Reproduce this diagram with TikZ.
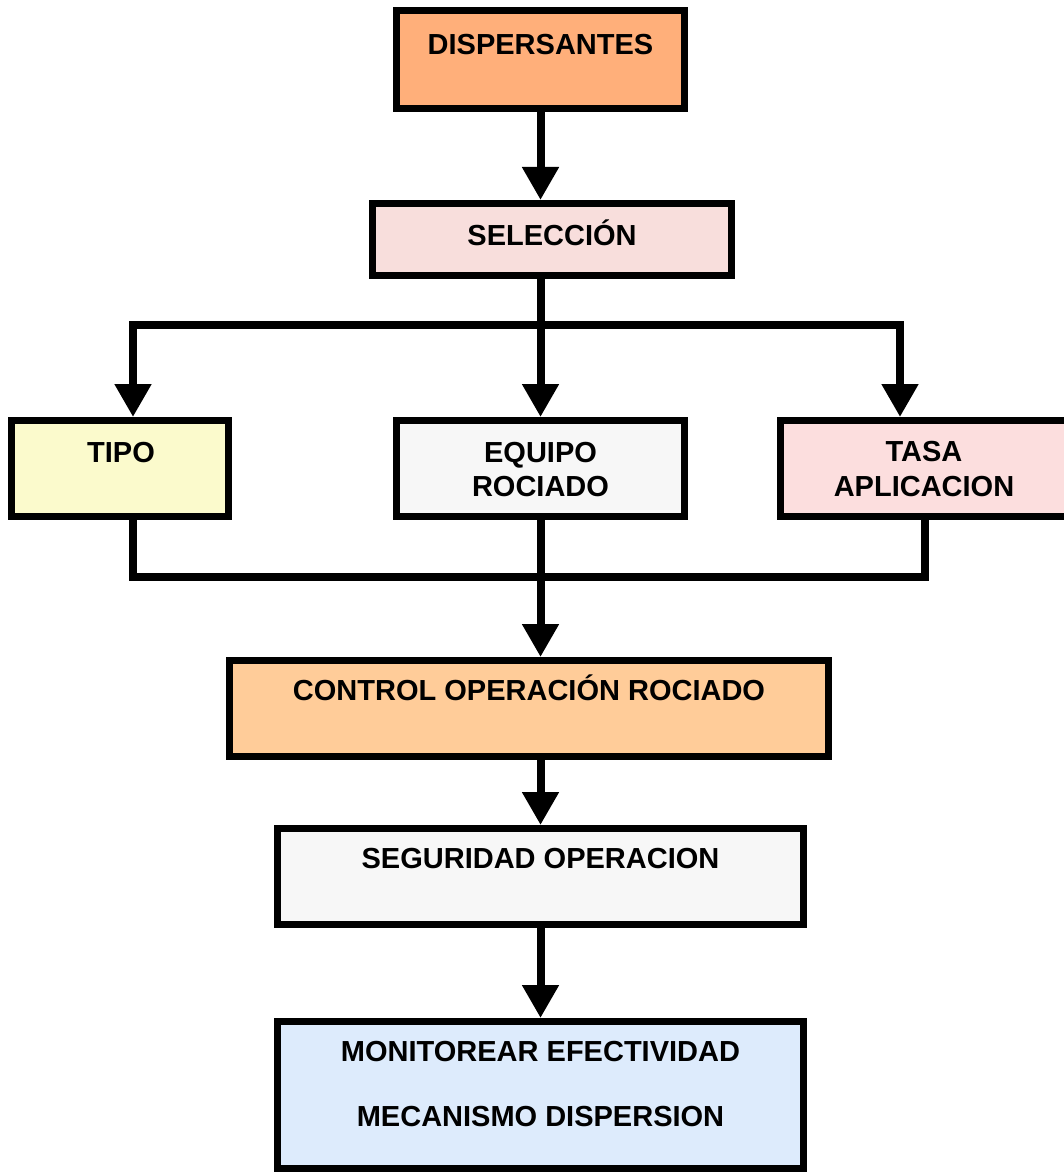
\documentclass[tikz,border=0pt]{standalone}
\usepackage{fontspec}
\setmainfont{Liberation Sans}
\usetikzlibrary{arrows.meta}
\definecolor{cDisp}{RGB}{255,175,122}
\definecolor{cSel}{RGB}{248,222,220}
\definecolor{cTipo}{RGB}{251,250,204}
\definecolor{cGrey}{RGB}{247,247,247}
\definecolor{cTasa}{RGB}{252,222,222}
\definecolor{cCtrl}{RGB}{255,204,153}
\definecolor{cMon}{RGB}{221,235,252}
\tikzset{
  box/.style={draw=black, line width=7pt, rectangle, inner sep=0pt, line join=miter},
  lbl/.style={font=\fontsize{29}{34}\selectfont\bfseries, align=center, inner sep=0pt, anchor=base},
  conn/.style={draw=black, line width=8pt, line join=miter},
  arr/.style={conn, -{Triangle[width=35pt,length=33pt]}}
}
\begin{document}
\begin{tikzpicture}[x=1pt,y=-1pt]
\useasboundingbox (0,0) rectangle (1063,1174);
% boxes
\node[box, fill=cDisp, minimum width=288pt, minimum height=98pt] (disp) at (540.5,59.5) {};
\node[box, fill=cSel, minimum width=359pt, minimum height=72pt] (sel) at (552,239.5) {};
\node[box, fill=cTipo, minimum width=217pt, minimum height=96pt] (tipo) at (120,468.5) {};
\node[box, fill=cGrey, minimum width=288pt, minimum height=96pt] (equipo) at (540.5,468.5) {};
\node[box, fill=cTasa, minimum width=287pt, minimum height=96pt] (tasa) at (924,468.5) {};
\node[box, fill=cCtrl, minimum width=599pt, minimum height=96pt] (ctrl) at (529,708.5) {};
\node[box, fill=cGrey, minimum width=526pt, minimum height=96pt] (seg) at (540.5,876.5) {};
\node[box, fill=cMon, minimum width=526pt, minimum height=147pt] (mon) at (540.5,1095) {};
% labels
\node[lbl] (tDisp) at (540.5,54.5) {DISPERSANTES};
\node[lbl] (tSel) at (552,245.5) {SELECCIÓN};
\node[lbl] (tTipo) at (121,462.5) {TIPO};
\node[lbl] (tEq1) at (540.5,462.5) {EQUIPO};
\node[lbl] (tEq2) at (540.5,496.5) {ROCIADO};
\node[lbl] (tTa1) at (924,461.5) {TASA};
\node[lbl] (tTa2) at (924,496.5) {APLICACION};
\node[lbl] (tCtrl) at (529,700.5) {CONTROL OPERACIÓN ROCIADO};
\node[lbl] (tSeg) at (540.5,868.5) {SEGURIDAD OPERACION};
\node[lbl] (tMon1) at (540.5,1061.5) {MONITOREAR EFECTIVIDAD};
\node[lbl] (tMon2) at (540.5,1126.5) {MECANISMO DISPERSION};
% junction coordinates
\coordinate (j1) at (540.5,325);
\coordinate (bL) at (133,325);
\coordinate (bR) at (900,325);
\coordinate (cL) at (133,577);
\coordinate (cR) at (925,577);
% connectors
\draw[arr] (disp.south) -- (disp.south |- sel.north);
\draw[conn] (j1 |- sel.south) -- (j1);
\draw[arr] (j1) -- (bL) -- (bL |- tipo.north);
\draw[arr] (j1) -- (bR) -- (bR |- tasa.north);
\draw[arr] (j1) -- (equipo.north);
\draw[conn] (cL |- tipo.south) -- (cL) -- (cR) -- (cR |- tasa.south);
\draw[arr] (equipo.south) -- (equipo.south |- ctrl.north);
\draw[arr] (seg.north |- ctrl.south) -- (seg.north);
\draw[arr] (seg.south) -- (mon.north);
\end{tikzpicture}
\end{document}
